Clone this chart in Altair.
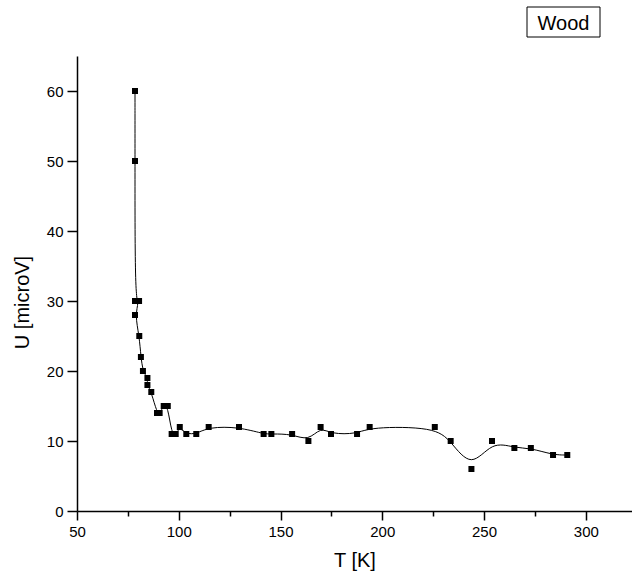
import altair as alt
import pandas as pd

series_name = "Wood"
T = [78.5, 78.5, 78.5, 80.5, 78.5, 80.6, 81.4, 82.4, 84.6, 84.6, 86.5, 89.3, 90.6,
     92.6, 94.6, 96.5, 98.5, 100.5, 103.7, 108.6, 114.7, 129.6, 141.7, 145.5,
     155.7, 163.7, 169.7, 174.8, 187.6, 193.8, 225.8, 233.6, 243.8, 253.9,
     264.9, 273.0, 283.9, 290.9]
U = [60, 50, 30, 30, 28, 25, 22, 20, 19, 18, 17, 14, 14,
     15, 15, 11, 11, 12, 11, 11, 12, 12, 11, 11,
     11, 10, 12, 11, 11, 12, 12, 10, 6, 10,
     9, 9, 8, 8]
x_ticks = list(range(50, 325, 25))
y_ticks = list(range(0, 70, 5))

df = pd.DataFrame({"T": T, "U": U, "idx": list(range(len(T)))})

FONT = "Liberation Sans"

xscale = alt.Scale(domain=[50, 322.7], nice=False, zero=False)
yscale = alt.Scale(domain=[0, 65], nice=False, zero=False)

xaxis = alt.Axis(
    values=x_ticks, title="T [K]", grid=False,
    labelExpr="datum.value % 50 === 0 ? datum.label : ''",
    tickSize={"condition": {"test": "datum.value % 50 === 0", "value": 9}, "value": 5},
    labelFlush=False, labelOverlap=False, labelPadding=4,
    labelFont=FONT, labelFontSize=15, labelColor="black",
    titleFont=FONT, titleFontSize=20, titleFontWeight="normal", titleColor="black",
    titleBaseline="alphabetic", titleY=55,
    domainColor="black", domainWidth=1.5, tickColor="black", tickWidth=1.5,
)
yaxis = alt.Axis(
    values=y_ticks, title="U [microV]", grid=False,
    labelExpr="datum.value % 10 === 0 ? datum.label : ''",
    tickSize={"condition": {"test": "datum.value % 10 === 0", "value": 10}, "value": 5},
    labelFlush=False, labelOverlap=False, labelPadding=4,
    labelFont=FONT, labelFontSize=15, labelColor="black",
    titleFont=FONT, titleFontSize=20, titleFontWeight="normal", titleColor="black",
    titleAngle=-90, titleBaseline="alphabetic", titleAlign="center",
    titleX=-49, titleY=246,
    domainColor="black", domainWidth=1.5, tickColor="black", tickWidth=1.5,
)

base = alt.Chart(df)
line = base.mark_line(interpolate="basis", color="black", strokeWidth=1).encode(
    x=alt.X("T:Q", scale=xscale, axis=xaxis),
    y=alt.Y("U:Q", scale=yscale, axis=yaxis),
    order="idx:Q",
)
pts = base.mark_square(size=36, color="black", opacity=1).encode(
    x=alt.X("T:Q", scale=xscale),
    y=alt.Y("U:Q", scale=yscale),
)

leg_df = pd.DataFrame({"name": [series_name]})
box = alt.Chart(leg_df).mark_rect(fill="white", stroke="black", strokeWidth=1).encode(
    x=alt.value(450), x2=alt.value(523), y=alt.value(-49), y2=alt.value(-19)
)
txt = alt.Chart(leg_df).mark_text(font=FONT, fontSize=20, color="black",
                                  align="center", baseline="alphabetic").encode(
    x=alt.value(486.5), y=alt.value(-26), text="name:N"
)

chart = alt.layer(line, pts, box, txt).properties(
    width=555, height=455,
    padding={"left": 77, "top": 56, "right": 0, "bottom": 73},
    autosize=alt.AutoSizeParams(type="none"),
    background="white",
).configure_view(stroke=None)

chart.save("out.html", embed_options={"renderer": "svg", "actions": False})
